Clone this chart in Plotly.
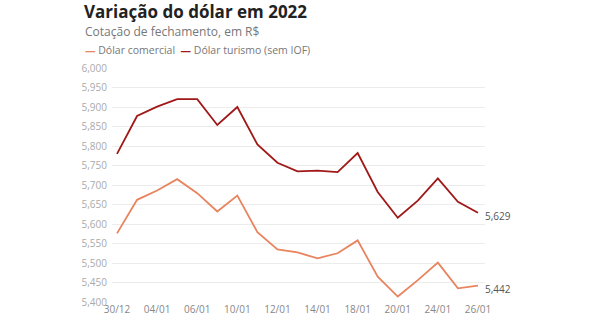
import plotly.graph_objects as go

dates = ["30/12", "03/01", "04/01", "05/01", "06/01", "07/01", "10/01", "11/01", "12/01",
         "13/01", "14/01", "17/01", "18/01", "19/01", "20/01", "21/01", "24/01", "25/01", "26/01"]
comercial = [5.576, 5.662, 5.686, 5.715, 5.679, 5.632, 5.673, 5.579, 5.535,
             5.527, 5.512, 5.525, 5.558, 5.465, 5.414, 5.456, 5.501, 5.435, 5.442]
turismo = [5.780, 5.877, 5.901, 5.920, 5.920, 5.854, 5.900, 5.804, 5.757,
           5.735, 5.737, 5.733, 5.782, 5.682, 5.616, 5.660, 5.717, 5.657, 5.629]
tick_labels = ["30/12", "04/01", "06/01", "10/01", "12/01", "14/01", "18/01", "20/01", "24/01", "26/01"]
y_ticks = [5.40, 5.45, 5.50, 5.55, 5.60, 5.65, 5.70, 5.75, 5.80, 5.85, 5.90, 5.95, 6.00]

c_light = "#e8845e"
c_dark = "#a01818"
font = "Open Sans"

fig = go.Figure()
fig.add_trace(go.Scatter(x=dates, y=comercial, mode="lines", name="Dólar comercial",
                         line=dict(color=c_light, width=1.8)))
fig.add_trace(go.Scatter(x=dates, y=turismo, mode="lines", name="Dólar turismo (sem IOF)",
                         line=dict(color=c_dark, width=1.8)))

for series in (comercial, turismo):
    fig.add_annotation(x=dates[-1], y=series[-1], xref="x", yref="y",
                       text=f"{series[-1]:.3f}".replace(".", ","), showarrow=False,
                       xanchor="left", xshift=5, yshift=-3, font=dict(family=font, size=10, color="#555"))

fig.add_annotation(xref="paper", yref="paper", x=-0.08, y=1.2415, xanchor="left", yanchor="middle",
                   text="<b>Variação do dólar em 2022</b>", showarrow=False,
                   font=dict(family=font, size=17, color="#222"))
fig.add_annotation(xref="paper", yref="paper", x=-0.078, y=1.158, xanchor="left", yanchor="middle",
                   text="Cotação de fechamento, em R$", showarrow=False,
                   font=dict(family=font, size=12, color="#777"))
fig.add_annotation(xref="paper", yref="paper", x=-0.078, y=1.077, xanchor="left", yanchor="middle",
                   text=f"<span style='color:{c_light}'><b>—</b></span> Dólar comercial  "
                        f"<span style='color:{c_dark}'><b>—</b></span> Dólar turismo (sem IOF)",
                   showarrow=False, font=dict(family=font, size=10.5, color="#777"))

fig.update_layout(
    width=590, height=330,
    margin=dict(l=112, r=105, t=68, b=28),
    plot_bgcolor="white", paper_bgcolor="white",
    showlegend=False,
    separators=",.",
    font=dict(family=font),
    xaxis=dict(type="category", range=[-0.25, 18.35], tickmode="array", tickvals=tick_labels,
               ticktext=tick_labels, showgrid=False, showline=False, zeroline=False,
               ticks="", tickfont=dict(size=10, color="#888")),
    yaxis=dict(range=[5.4, 6.0], tickmode="array", tickvals=y_ticks, tickformat=".3f",
               showgrid=True, gridcolor="#ececec", gridwidth=1, zeroline=False, showline=False,
               ticks="", ticklabelstandoff=4, tickfont=dict(size=10, color="#aaa")),
)

fig.write_html("out.html")
